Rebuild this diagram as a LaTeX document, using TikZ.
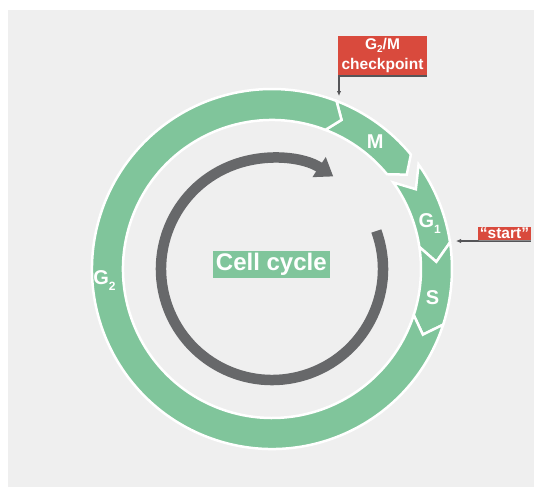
\documentclass[tikz,border=0pt]{standalone}
\usepackage{fontspec}
\setmainfont{Liberation Sans}
\usepackage{tikz}
\usetikzlibrary{arrows.meta}
\definecolor{phasegreen}{RGB}{128,197,155}
\definecolor{flagred}{RGB}{217,74,61}
\definecolor{cyclegray}{RGB}{103,104,106}
\definecolor{bggray}{RGB}{239,239,239}
\definecolor{pointgray}{RGB}{85,85,88}
\newcommand{\phsub}[3]{\raisebox{#1}{\fontsize{#2}{#2}\selectfont #3}}
\tikzstyle{phase} = [fill=phasegreen, 
draw=white, 
line width=2.5pt]
\tikzstyle{phaselabel} = [text=white, 
font=\fontsize{20}{20}\selectfont\bfseries, 
inner sep=0pt]
\tikzstyle{flag} = [rectangle, 
fill=flagred, 
text=white, 
inner sep=0.5pt, 
align=center]
\tikzstyle{pointer} = [draw=pointgray, line width=1.6pt, -{Latex[length=5pt,width=4.5pt]}]
\tikzstyle{cyclearrow} = [draw=cyclegray, line width=10.5pt, -{Triangle[length=17pt,width=23pt]}]

\begin{document}
\begin{tikzpicture}[x=1pt,y=1pt]
\useasboundingbox (-272,269) rectangle (262,-219);
\fill[bggray] (-264,259) rectangle (262,-218);

% phases: start/end angle, notch and tip depth
\foreach \a/\b/\n/\t in {69/39.5/4/4.5, 35.5/8.5/6.5/6, 8.5/-18/6/5.5, -18/-291/5.5/4}
  \draw[phase] (\a:180pt) arc[start angle=\a, end angle=\b, radius=180pt]
    -- (\b-\t:164.5pt) -- (\b:149pt) arc[start angle=\b, end angle=\a, radius=149pt]
    -- (\a-\n:164.5pt) -- cycle;

\node (m) [phaselabel] at (51:164pt) {M};
\node (g1) [phaselabel] at (16:164pt) {G\phsub{-6pt}{12}{1}};
\node (s) [phaselabel] at (-10:163pt) {S};
\node (g2) [phaselabel] at (184:168pt) {G\phsub{-6pt}{12}{2}};

\draw [cyclearrow] (20:111pt) arc[start angle=20, end angle=-303.5, radius=111pt];
\node (cycle) [fill=phasegreen, text=white, inner sep=0pt, minimum width=117pt, minimum height=27.6pt,
  font=\fontsize{24}{24}\selectfont\bfseries] at (-0.7,4.5) {Cell cycle};

\node (gm) [flag, minimum width=88.4pt, minimum height=39pt, font=\fontsize{15.5}{20}\selectfont\bfseries]
  at (110.5,213.5) {G\phsub{-3pt}{10}{2}/M\\checkpoint};
\node (start) [flag, minimum width=52.4pt, minimum height=12.7pt, text height=10.5pt, text depth=0.5pt,
  font=\fontsize{15.5}{15.5}\selectfont\bfseries] at (232.5,35.4) {“start”};

\coordinate (gmtip) at (67,173);
\coordinate (starttip) at (184,28);
\draw [pointer] ([yshift=-1pt]gm.south east) -| (gmtip);
\draw [pointer] ([yshift=-1pt]start.south east) -- (starttip);

\end{tikzpicture}
\end{document}
